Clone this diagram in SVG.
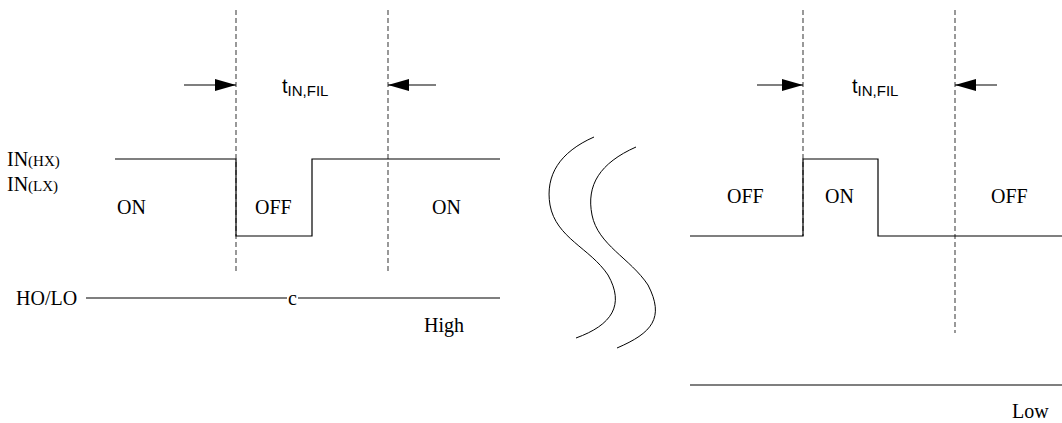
<svg xmlns="http://www.w3.org/2000/svg" width="1062" height="423" viewBox="0 0 1062 423">
<style>
.sig{fill:none;stroke:#000;stroke-width:1.2}
.dash{stroke:#555;stroke-width:1.2;stroke-dasharray:5,3}
.arr{stroke:#000;stroke-width:1.2;marker-end:url(#ah)}
.curve{fill:none;stroke:#000;stroke-width:1}
.lbl{font-family:"Liberation Serif",serif;font-size:20px;fill:#000}
.sm{font-size:15px}
.t{font-family:"Liberation Sans",sans-serif;font-size:20px;fill:#000}
.sub{font-size:15px}
</style>
<defs>
<marker id="ah" markerWidth="22" markerHeight="12" refX="21" refY="6" orient="auto" markerUnits="userSpaceOnUse">
<path d="M0,0 L21,6 L0,12 Z" fill="#000"/>
</marker>
</defs>
<g id="connectors">
<line class="dash" x1="236" y1="10" x2="236" y2="272"/>
<line class="dash" x1="388" y1="10" x2="388" y2="272"/>
<line class="dash" x1="803" y1="10" x2="803" y2="236"/>
<line class="dash" x1="955" y1="10" x2="955" y2="333"/>
<line class="arr" x1="184" y1="85" x2="236" y2="85"/>
<line class="arr" x1="436" y1="85" x2="388" y2="85"/>
<line class="arr" x1="757" y1="85" x2="803" y2="85"/>
<line class="arr" x1="997" y1="85" x2="955" y2="85"/>
</g>
<g id="left-signal">
<path class="sig" d="M115,159 H236 V236 H312 V159 H500"/>
<text class="lbl" x="7" y="166">IN<tspan class="sm">(HX)</tspan></text>
<text class="lbl" x="7" y="191">IN<tspan class="sm">(LX)</tspan></text>
<text class="lbl" x="117" y="214">ON</text>
<text class="lbl" x="255" y="214">OFF</text>
<text class="lbl" x="432" y="214">ON</text>
</g>
<g id="left-filter-label">
<text class="t" x="282" y="93">t<tspan class="sub" dy="3">IN,FIL</tspan></text>
</g>
<g id="holo">
<line class="sig" x1="86" y1="298" x2="287" y2="298"/>
<line class="sig" x1="298" y1="298" x2="500" y2="298"/>
<text class="lbl" x="16" y="305">HO/LO</text>
<text class="lbl" x="288" y="305">c</text>
<text class="lbl" x="424" y="332">High</text>
</g>
<g id="break">
<path class="curve" d="M594,137 C560,152 545,175 550,205 C556,238 590,248 608,275 C625,305 612,325 576,338"/>
<path class="curve" d="M636,147 C600,163 586,185 592,215 C598,245 630,258 648,285 C665,318 652,333 617,348"/>
</g>
<g id="right-signal">
<path class="sig" d="M690,236 H803 V159 H878 V236 H1062"/>
<text class="lbl" x="727" y="203">OFF</text>
<text class="lbl" x="825" y="203">ON</text>
<text class="lbl" x="991" y="203">OFF</text>
</g>
<g id="right-filter-label">
<text class="t" x="852" y="93">t<tspan class="sub" dy="3">IN,FIL</tspan></text>
</g>
<g id="low">
<line class="sig" x1="690" y1="385" x2="1062" y2="385"/>
<text class="lbl" x="1012" y="418">Low</text>
</g>
</svg>
